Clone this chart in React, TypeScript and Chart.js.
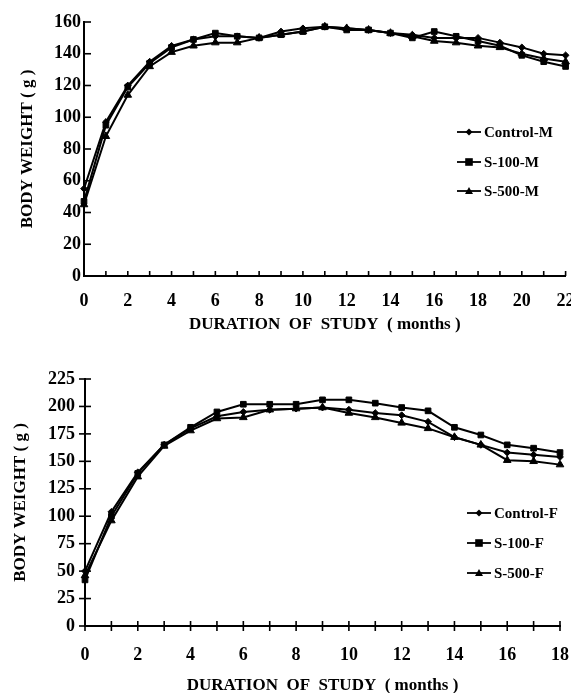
import React, { useEffect, useRef } from 'react';
import { Chart, registerables } from 'chart.js';

Chart.register(...registerables);

// ---- Data (male, 0-22 months) ----
const monthsM = [0, 1, 2, 3, 4, 5, 6, 7, 8, 9, 10, 11, 12, 13, 14, 15, 16, 17, 18, 19, 20, 21, 22];
const controlM = [55, 97, 120, 135, 145, 149, 151, 151, 150, 154, 156, 157, 156, 155, 153, 152, 150, 150, 150, 147, 144, 140, 139];
const s100M = [47, 95, 119, 134, 144, 149, 153, 151, 150, 152, 154, 157, 155, 155, 153, 150, 154, 151, 148, 145, 139, 135, 132];
const s500M = [45, 88, 114, 132, 141, 145, 147, 147, 150, 152, 154, 157, 156, 155, 153, 151, 148, 147, 145, 144, 140, 137, 135];

// ---- Data (female, 0-18 months) ----
const monthsF = [0, 1, 2, 3, 4, 5, 6, 7, 8, 9, 10, 11, 12, 13, 14, 15, 16, 17, 18];
const controlF = [50, 104, 140, 165, 180, 191, 195, 197, 198, 199, 197, 194, 192, 186, 172, 165, 158, 156, 154];
const s100F = [42, 100, 139, 165, 181, 195, 202, 202, 202, 206, 206, 203, 199, 196, 181, 174, 165, 162, 158];
const s500F = [46, 96, 136, 164, 178, 189, 190, 197, 198, 199, 194, 190, 185, 180, 172, 165, 151, 150, 147];

const labelsM = ['Control-M', 'S-100-M', 'S-500-M'];
const labelsF = ['Control-F', 'S-100-F', 'S-500-F'];
const yTitle = 'BODY WEIGHT ( g )';
const xTitle = 'DURATION  OF  STUDY  ( months )';

const FONT = "'Liberation Serif', 'Times New Roman', serif";
const styles = [
  { pointStyle: 'rectRot', radius: 3.4 },
  { pointStyle: 'rect', radius: 4 },
  { pointStyle: 'triangle', radius: 4.4 },
];

const tickPlugin = {
  id: 'customTicks',
  afterDatasetsDraw(chart: any, _args: any, opts: any) {
    const { ctx, chartArea, scales } = chart;
    const xs = scales.x;
    const ys = scales.y;
    ctx.save();
    ctx.strokeStyle = '#000';
    ctx.lineWidth = 1.6;
    xs.ticks.forEach((t: any) => {
      const px = xs.getPixelForValue(t.value);
      ctx.beginPath();
      ctx.moveTo(px, chartArea.bottom - opts.xIn);
      ctx.lineTo(px, chartArea.bottom + opts.xOut);
      ctx.stroke();
    });
    ys.ticks.forEach((t: any) => {
      const py = ys.getPixelForValue(t.value);
      ctx.beginPath();
      ctx.moveTo(chartArea.left - opts.yOut, py);
      ctx.lineTo(chartArea.left + opts.yIn, py);
      ctx.stroke();
    });
    ctx.restore();
  },
};

function buildConfig(p: any) {
  const series = [p.c, p.s1, p.s5];
  return {
    type: 'line',
    data: {
      datasets: series.map((arr: number[], i: number) => ({
        label: p.labels[i],
        data: arr.map((v, j) => ({ x: p.months[j], y: v })),
        borderColor: '#000',
        backgroundColor: '#000',
        borderWidth: 2,
        pointStyle: styles[i].pointStyle,
        pointRadius: styles[i].radius,
        pointBorderWidth: 1,
        pointBackgroundColor: '#000',
        pointBorderColor: '#000',
        tension: 0,
        clip: false,
      })),
    },
    options: {
      responsive: false,
      animation: false,
      events: [],
      layout: { padding: { top: p.padTop, right: p.padRight, left: 0, bottom: 0 } },
      plugins: {
        legend: { display: false },
        tooltip: { enabled: false },
        customTicks: p.ticks,
      },
      scales: {
        x: {
          type: 'linear',
          min: 0,
          max: p.months[p.months.length - 1],
          afterFit: (s: any) => {
            s.height = p.xHeight;
            s.paddingLeft = 0;
            s.paddingRight = 0;
          },
          grid: { display: false, drawTicks: false },
          border: { display: true, color: '#000', width: 2 },
          ticks: {
            stepSize: 1,
            autoSkip: false,
            maxRotation: 0,
            padding: p.xTickPad,
            color: '#000',
            font: { family: FONT, size: 18, weight: 'bold' },
            callback: (v: any) => (Number(v) % 2 === 0 ? String(v) : ''),
          },
          title: {
            display: true,
            text: xTitle,
            color: '#000',
            font: { family: FONT, size: 17, weight: 'bold' },
            padding: { top: 0, bottom: p.xTitlePad },
          },
        },
        y: {
          type: 'linear',
          min: 0,
          max: p.yMax,
          afterFit: (s: any) => {
            s.width = p.yWidth;
            s.paddingTop = 0;
            s.paddingBottom = 0;
          },
          grid: { display: false, drawTicks: false },
          border: { display: true, color: '#000', width: 2 },
          ticks: {
            stepSize: p.yStep,
            padding: p.yTickPad,
            color: '#000',
            font: { family: FONT, size: 18, weight: 'bold' },
          },
          title: {
            display: true,
            text: yTitle,
            color: '#000',
            font: { family: FONT, size: 17, weight: 'bold' },
            padding: { top: p.yTitlePad, bottom: 0 },
          },
        },
      },
    },
    plugins: [tickPlugin],
  };
}

function ChartCanvas({ params, width, height }: any) {
  const ref = useRef<HTMLCanvasElement | null>(null);
  useEffect(() => {
    if (!ref.current) return;
    const chart = new Chart(ref.current, buildConfig(params) as any);
    return () => chart.destroy();
  }, []);
  return <canvas ref={ref} width={width} height={height} style={{ display: 'block' }} />;
}

function Marker({ kind }: { kind: number }) {
  const cx = 12, cy = 6;
  let m: any = null;
  if (kind === 0) m = <polygon points={`${cx},${cy - 3.5} ${cx + 3.5},${cy} ${cx},${cy + 3.5} ${cx - 3.5},${cy}`} fill="#000" />;
  if (kind === 1) m = <rect x={cx - 3.8} y={cy - 3.8} width={7.6} height={7.6} fill="#000" />;
  if (kind === 2) m = <polygon points={`${cx},${cy - 4} ${cx + 4},${cy + 3} ${cx - 4},${cy + 3}`} fill="#000" />;
  return (
    <svg width={24} height={12} style={{ display: 'block' }}>
      <line x1={0} y1={cy} x2={24} y2={cy} stroke="#000" strokeWidth={1.8} />
      {m}
    </svg>
  );
}

function Legend({ labels, left, tops }: any) {
  return (
    <>
      {labels.map((l: string, i: number) => (
        <div
          key={l}
          style={{
            position: 'absolute',
            left,
            top: tops[i] - 10,
            height: 20,
            display: 'flex',
            alignItems: 'center',
            fontFamily: FONT,
            fontWeight: 'bold',
            fontSize: 15,
            color: '#000',
            whiteSpace: 'nowrap',
          }}
        >
          <Marker kind={i} />
          <span style={{ marginLeft: 3 }}>{l}</span>
        </div>
      ))}
    </>
  );
}

export default function App() {
  const topParams = {
    months: monthsM, c: controlM, s1: s100M, s5: s500M, labels: labelsM,
    padTop: 22, padRight: 5, xHeight: 64, yWidth: 84, yMax: 160, yStep: 20,
    xTickPad: 15, xTitlePad: 5, yTickPad: 3, yTitlePad: 17,
    ticks: { xIn: 5, xOut: 0, yIn: 7, yOut: 0 },
  };
  const botParams = {
    months: monthsF, c: controlF, s1: s100F, s5: s500F, labels: labelsF,
    padTop: 39, padRight: 11, xHeight: 67, yWidth: 85, yMax: 225, yStep: 25,
    xTickPad: 19, xTitlePad: -3, yTickPad: 10, yTitlePad: 10,
    ticks: { xIn: 5, xOut: 5, yIn: 6, yOut: 6 },
  };
  return (
    <div style={{ position: 'absolute', left: 0, top: 0, width: 571, height: 693, background: '#fff', overflow: 'hidden' }}>
      <div style={{ position: 'absolute', left: 0, top: 0 }}>
        <ChartCanvas params={topParams} width={571} height={340} />
      </div>
      <div style={{ position: 'absolute', left: 0, top: 340 }}>
        <ChartCanvas params={botParams} width={571} height={353} />
      </div>
      <Legend labels={labelsM} left={457} tops={[132, 162, 191]} />
      <Legend labels={labelsF} left={467} tops={[513, 543, 573]} />
    </div>
  );
}
